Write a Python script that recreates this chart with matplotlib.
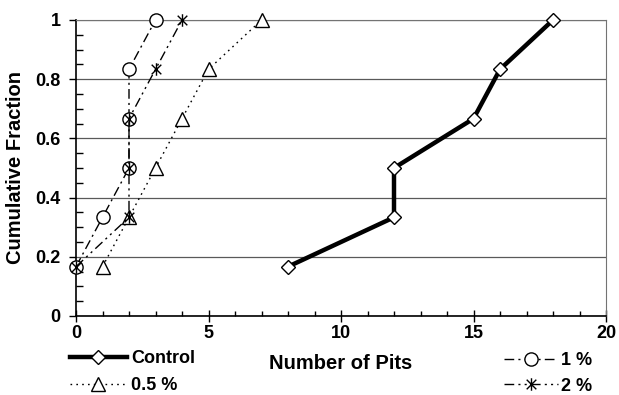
import numpy as np
import matplotlib.pyplot as plt
from matplotlib.path import Path
from matplotlib.ticker import MultipleLocator, FormatStrFormatter

plt.rcParams['font.family'] = ['Liberation Sans', 'DejaVu Sans']
plt.rcParams['font.weight'] = 'bold'

# data
control_x = [8, 12, 12, 15, 16, 18]
control_y = [1/6, 2/6, 3/6, 4/6, 5/6, 1.0]
half_x = [1, 2, 3, 4, 5, 7]
half_y = [1/6, 2/6, 3/6, 4/6, 5/6, 1.0]
one_x = [0, 1, 2, 2, 2, 3]
one_y = [1/6, 2/6, 3/6, 4/6, 5/6, 1.0]
two_x = [0, 2, 2, 2, 3, 4]
two_y = [1/6, 2/6, 3/6, 4/6, 5/6, 1.0]
labels = ['Control', '0.5 %', '1 %', '2 %']

# asterisk marker: an X plus a vertical bar
star = Path([(-1, -1), (1, 1), (-1, 1), (1, -1), (0, -1.3), (0, 1.3)],
            [Path.MOVETO, Path.LINETO, Path.MOVETO, Path.LINETO, Path.MOVETO, Path.LINETO])

fig = plt.figure(figsize=(6.19, 3.95), dpi=100)
ax = fig.add_axes([76/619, 1 - 316/395, 530/619, 296/395])

ax.grid(True, axis='y', which='major', color='0.35', lw=0.9, zorder=0)

l_ctrl, = ax.plot(control_x, control_y, color='black', lw=3.2, marker='D', ms=6.8,
                  mfc='white', mec='black', mew=1.0, clip_on=False, zorder=3)
l_half, = ax.plot(half_x, half_y, color='black', lw=1.0, ls=(0, (1.2, 3)), marker='^', ms=10,
                  mfc='white', mec='black', mew=1.0, clip_on=False, zorder=3)
l_one, = ax.plot(one_x, one_y, color='black', lw=1.0, ls=(0, (7, 3, 1.5, 3)), marker='o', ms=9.5,
                 mfc='white', mec='black', mew=1.0, clip_on=False, zorder=3)
l_two, = ax.plot(two_x, two_y, color='black', lw=1.0, ls=(0, (7, 3, 1.5, 3, 1.5, 3)), marker=star,
                 ms=9, mfc='none', mec='black', mew=1.0, clip_on=False, zorder=4)

ax.set_xlim(0, 20)
ax.set_ylim(0, 1)
ax.xaxis.set_major_locator(MultipleLocator(5))
ax.xaxis.set_minor_locator(MultipleLocator(1))
ax.yaxis.set_major_locator(MultipleLocator(0.2))
ax.yaxis.set_minor_locator(MultipleLocator(0.05))
ax.yaxis.set_major_formatter(FormatStrFormatter('%g'))

ax.tick_params(axis='x', which='major', direction='inout', length=9, width=1, labelsize=13, pad=2)
ax.tick_params(axis='x', which='minor', direction='in', length=3.5, width=1)
ax.tick_params(axis='y', which='major', direction='out', length=5, width=1, labelsize=13, pad=6)
ax.tick_params(axis='y', which='minor', direction='in', length=5, width=1)

for side in ['top', 'right']:
    ax.spines[side].set_color('0.45')
ax.spines['left'].set_linewidth(1.2)
ax.spines['bottom'].set_linewidth(1.2)

ax.set_xlabel('Number of Pits', fontsize=14.5, fontweight='bold')
ax.set_ylabel('Cumulative Fraction', fontsize=14.5, fontweight='bold')
ax.xaxis.set_label_coords(0.5, -0.13)
ax.yaxis.set_label_coords(-0.097, 0.5)

fig.legend([l_ctrl, l_half], labels[:2], loc='upper left', bbox_to_anchor=(70/619, 1 - 350/395),
           frameon=False, borderaxespad=0, borderpad=0, handlelength=3.15, handletextpad=0.25,
           labelspacing=0.58, prop={'size': 13, 'weight': 'bold'})
fig.legend([l_one, l_two], labels[2:], loc='upper left', bbox_to_anchor=(504/619, 1 - 352/395),
           frameon=False, borderaxespad=0, borderpad=0, handlelength=3.0, handletextpad=0.15,
           labelspacing=0.48, prop={'size': 13, 'weight': 'bold'})

fig.savefig('out.png', dpi=100)
